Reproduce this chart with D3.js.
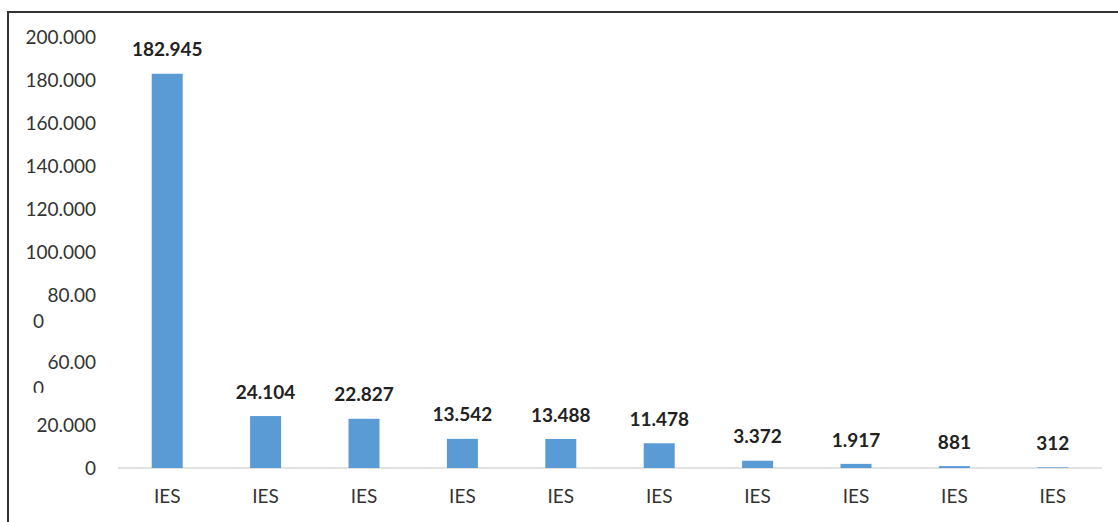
<!DOCTYPE html>
<html>
<head>
<meta charset="utf-8">
<script src="https://cdn.jsdelivr.net/npm/d3@7/dist/d3.min.js"></script>
<style>
  html, body { margin: 0; padding: 0; background: #fff; }
  svg { display: block; }
  text { font-family: Lato, "Liberation Sans", sans-serif; }
</style>
</head>
<body>
<svg id="chart" width="1118" height="522"></svg>
<script>
// Institution categories and their counts
const categories = ["IES", "IES", "IES", "IES", "IES", "IES", "IES", "IES", "IES", "IES"];
const values = [182945, 24104, 22827, 13542, 13488, 11478, 3372, 1917, 881, 312];
const valueLabels = ["182.945", "24.104", "22.827", "13.542", "13.488", "11.478", "3.372", "1.917", "881", "312"];

// Y axis ticks (the 80/60 thousand labels wrap onto a second line)
const tickValues = [0, 20000, 60000, 80000, 100000, 120000, 140000, 160000, 180000, 200000];
const tickLabels = [["0"], ["20.000"], ["60.00", "0"], ["80.00", "0"], ["100.000"], ["120.000"], ["140.000"], ["160.000"], ["180.000"], ["200.000"]];

const svg = d3.select("#chart");
const W = 1118, H = 522;

// Frame
svg.append("line").attr("x1", 8).attr("x2", W).attr("y1", 12).attr("y2", 12)
  .attr("stroke", "#333").attr("stroke-width", 2);
svg.append("line").attr("x1", 8).attr("x2", 8).attr("y1", 11).attr("y2", H)
  .attr("stroke", "#333").attr("stroke-width", 2);

const x = d3.scaleBand().domain(d3.range(categories.length)).range([118, 1102]).paddingInner(0).paddingOuter(0);
const y = d3.scaleLinear().domain([0, 200000]).range([468, 37]);
const barW = 31;

// Y tick labels
const tickG = svg.append("g");
const clip = svg.append("defs").append("clipPath").attr("id", "wrapClip");
tickValues.forEach((v, i) => {
  const lines = tickLabels[i];
  if (lines.length === 1) {
    tickG.append("text")
      .attr("x", 96).attr("y", y(v)).attr("dy", "0.35em")
      .attr("text-anchor", "end").attr("font-size", 19).attr("fill", "#333")
      .text(lines[0]);
  } else {
    const shift = v === 60000 ? 24 : 0;
    const y0 = y(v) + shift;
    tickG.append("text")
      .attr("x", 96).attr("y", y0).attr("dy", "0.35em")
      .attr("text-anchor", "end").attr("font-size", 19).attr("fill", "#333")
      .text(lines[0]);
    const second = tickG.append("text")
      .attr("x", 33).attr("y", y0 + 26).attr("dy", "0.35em")
      .attr("text-anchor", "start").attr("font-size", 19).attr("fill", "#333")
      .text(lines[1]);
    if (v === 60000) {
      // the wrapped digit is cut off below the next label
      clip.append("rect").attr("x", 20).attr("y", y0 + 14).attr("width", 40).attr("height", 16);
      second.attr("clip-path", "url(#wrapClip)");
    }
  }
});

// Baseline
svg.append("line").attr("x1", 118).attr("x2", 1102).attr("y1", y(0)).attr("y2", y(0))
  .attr("stroke", "#d9d9d9").attr("stroke-width", 1.5);

// Bars
svg.append("g").selectAll("rect").data(values).join("rect")
  .attr("x", (d, i) => x(i) + x.bandwidth() / 2 - barW / 2)
  .attr("width", barW)
  .attr("y", d => y(d))
  .attr("height", d => y(0) - y(d))
  .attr("fill", "#5B9BD5");

// Value labels
svg.append("g").selectAll("text").data(values).join("text")
  .attr("x", (d, i) => x(i) + x.bandwidth() / 2)
  .attr("y", d => y(d) - 24).attr("dy", "0.35em")
  .attr("text-anchor", "middle").attr("font-size", 19).attr("font-weight", "bold").attr("fill", "#222")
  .text((d, i) => valueLabels[i]);

// Category labels
svg.append("g").selectAll("text").data(categories).join("text")
  .attr("x", (d, i) => x(i) + x.bandwidth() / 2)
  .attr("y", 496).attr("dy", "0.35em")
  .attr("text-anchor", "middle").attr("font-size", 19).attr("fill", "#333")
  .text(d => d);
</script>
</body>
</html>
